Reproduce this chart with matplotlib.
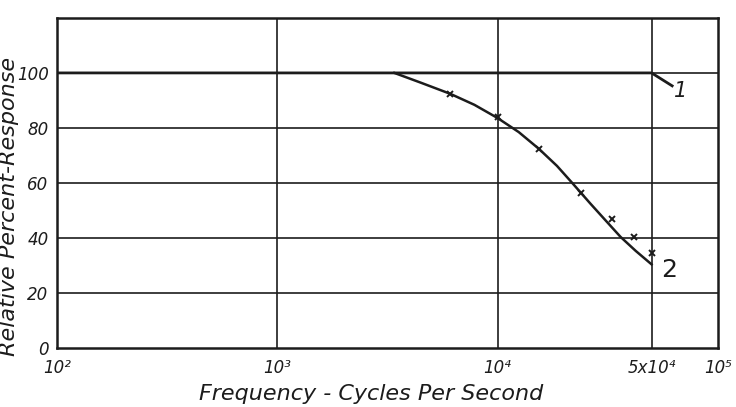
import matplotlib.pyplot as plt

# curve 1: flat response, rolling off just past 5x10^4
freq_1 = [100, 50000, 62000]
resp_1 = [100, 100, 95.3]

# curve 2: traced line through the measured region
freq_2 = [3400, 4500, 6100, 7850, 10000, 12470, 15400, 18600, 21760,
          26370, 31470, 36140, 42360, 50000]
resp_2 = [100, 96.4, 92.4, 88.4, 83.6, 78.5, 72.4, 66.2, 60.1,
          52.5, 45.7, 40.4, 35.3, 30.4]

# measured points on curve 2
pts_freq = [6100, 10000, 15400, 24000, 33200, 41700, 50000]
pts_resp = [92.5, 84, 72.5, 56.4, 47, 40.5, 34.5]

xticks = [100, 1000, 10000, 50000, 100000]
xtick_labels = ["10²", "10³", "10⁴", "5x10⁴", "10⁵"]
yticks = [0, 20, 40, 60, 80, 100]
ytick_labels = ["0", "20", "40", "60", "80", "100"]

ink = "#1c1c1c"

fig = plt.figure(figsize=(7.36, 4.07), dpi=100)
ax = fig.add_axes([0.0774, 0.145, 0.898, 0.811])
ax.set_xscale("log")
ax.set_xlim(100, 100000)
ax.set_ylim(0, 120)

for y in yticks[1:]:
    ax.axhline(y, color=ink, lw=1.2, zorder=1)
for x in [1000, 10000, 50000]:
    ax.axvline(x, color=ink, lw=1.2, zorder=1)

ax.plot(freq_1, resp_1, color=ink, lw=2.0, zorder=3)
ax.plot(freq_2, resp_2, color=ink, lw=1.8, zorder=3,
        solid_joinstyle="round")
ax.plot(pts_freq, pts_resp, ls="none", marker="x", ms=5, mew=1.4,
        color=ink, zorder=4)

ax.text(68000, 93.5, "1", fontsize=15, style="italic", color=ink,
        ha="center", va="center")
ax.text(60000, 28.5, "2", fontsize=18, color=ink, ha="center", va="center")

ax.set_xticks(xticks)
ax.set_xticklabels(xtick_labels, fontsize=12, style="italic", color=ink)
ax.set_yticks(yticks)
ax.set_yticklabels(ytick_labels, fontsize=12, style="italic", color=ink)
ax.minorticks_off()
ax.tick_params(length=0, pad=6)
ax.tick_params(axis="x", pad=8)

for s in ax.spines.values():
    s.set_color(ink)
    s.set_linewidth(1.8)

ax.set_xlabel("Frequency - Cycles Per Second", fontsize=16, style="italic",
              color=ink)
ax.xaxis.set_label_coords(0.475, -0.11)
ax.set_ylabel("Relative Percent-Response", fontsize=16, style="italic",
              color=ink)
ax.yaxis.set_label_coords(-0.058, 0.43)

fig.savefig("out.png", dpi=100)
